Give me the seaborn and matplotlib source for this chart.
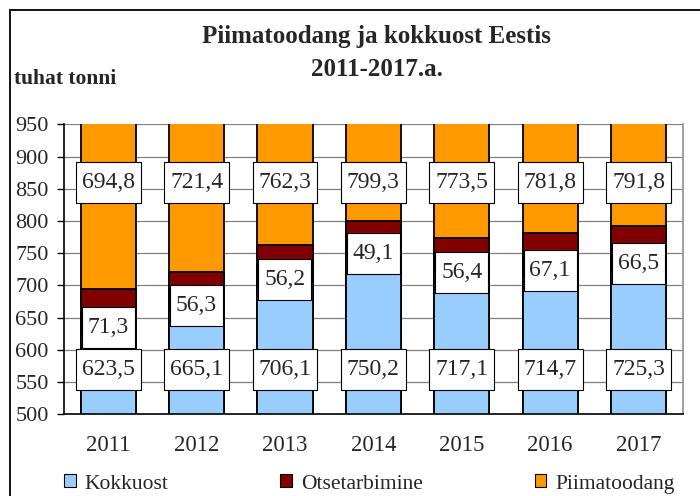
import matplotlib
matplotlib.use("Agg")
import matplotlib.pyplot as plt
from matplotlib.patches import Rectangle, Patch
import numpy as np
import pandas as pd
import seaborn as sns

years = ["2011", "2012", "2013", "2014", "2015", "2016", "2017"]
kokkuost = [623.5, 665.1, 706.1, 750.2, 717.1, 714.7, 725.3]
otsetarbimine = [71.3, 56.3, 56.2, 49.1, 56.4, 67.1, 66.5]
piimatoodang = [694.8, 721.4, 762.3, 799.3, 773.5, 781.8, 791.8]
series_names = ["Kokkuost", "Otsetarbimine", "Piimatoodang"]
yticks = list(range(500, 951, 50))

c_blue, c_red, c_orange = "#99CCFF", "#800000", "#FF9900"

sns.set_style("white")
plt.rcParams["font.family"] = ["Liberation Serif", "DejaVu Serif"]

df = pd.DataFrame({"year": years, "k": kokkuost, "o": otsetarbimine, "p": piimatoodang})
df["ko"] = df["k"] + df["o"]
df["kop"] = df["ko"] + df["p"]

fig = plt.figure(figsize=(7, 4.96), dpi=100)
ax = fig.add_axes([64 / 700, (496 - 414.3) / 496, (682.7 - 64) / 700, (414.3 - 124.3) / 496])

for col, color in [("kop", c_orange), ("ko", c_red), ("k", c_blue)]:
    sns.barplot(data=df, x="year", y=col, order=years, color=color, saturation=1,
                width=0.625, edgecolor="black", linewidth=1.3, ax=ax, zorder=2)

ax.set_ylim(500, 950)
ax.set_xlim(-0.5, len(years) - 0.5)
ax.set_yticks(yticks)
ax.set_yticklabels([str(t) for t in yticks], fontsize=16)
ax.set_xticks(range(len(years)))
ax.set_xticklabels(years, fontsize=16.5)
ax.set_xticks(np.arange(-0.5, len(years), 1), minor=True)
ax.tick_params(axis="x", which="major", length=0, pad=15)
ax.tick_params(axis="x", which="minor", length=5, width=1, direction="out", color="black")
ax.tick_params(axis="y", which="major", length=5, width=1, direction="out", color="black", pad=6, left=True)
ax.set_xlabel("")
ax.set_ylabel("")
ax.grid(axis="y", color="#808080", linewidth=0.9, zorder=0)
ax.set_axisbelow(True)
for s in ["left", "bottom"]:
    ax.spines[s].set_color("black")
    ax.spines[s].set_linewidth(1.2)
ax.spines["right"].set_color("#909090")
ax.spines["right"].set_linewidth(1.2)
ax.spines["top"].set_visible(False)

def fmt(v):
    return f"{v:.1f}".replace(".", ",")

box = dict(boxstyle="square,pad=0.25", fc="white", ec="black", lw=0.8, mutation_aspect=1.7)
for i in range(len(years)):
    ax.text(i, 570, fmt(kokkuost[i]), ha="center", va="center", fontsize=17, bbox=box, zorder=5)
    oy = kokkuost[i] + otsetarbimine[i] / 2 - 25
    ax.text(i, oy, fmt(otsetarbimine[i]), ha="center", va="center", fontsize=17, bbox=box, zorder=5)
    ax.text(i, 860, fmt(piimatoodang[i]), ha="center", va="center", fontsize=17, bbox=box, zorder=5)

fig.text(376 / 700, 1 - 36 / 496, "Piimatoodang ja kokkuost Eestis", ha="center", va="center",
         fontsize=18, fontweight="bold")
fig.text(377 / 700, 1 - 69 / 496, "2011-2017.a.", ha="center", va="center",
         fontsize=18, fontweight="bold")
fig.text(14 / 700, 1 - 79 / 496, "tuhat tonni", ha="left", va="center", fontsize=15.5, fontweight="bold")

handles = [Patch(facecolor=c, edgecolor="black", linewidth=0.8) for c in (c_blue, c_red, c_orange)]
fig.legend(handles, series_names, loc="center left", bbox_to_anchor=(64 / 700, 1 - 484 / 496),
           ncol=3, frameon=False, fontsize=15.5, handlelength=0.55, handleheight=0.55,
           handletextpad=0.4, columnspacing=5.2, borderpad=0, borderaxespad=0)

fig.add_artist(Rectangle((10 / 700, -0.1), 1.2, 1.1 - 10 / 496, transform=fig.transFigure,
                         fill=False, ec="black", lw=1.3))

fig.savefig("out.png", dpi=100)
